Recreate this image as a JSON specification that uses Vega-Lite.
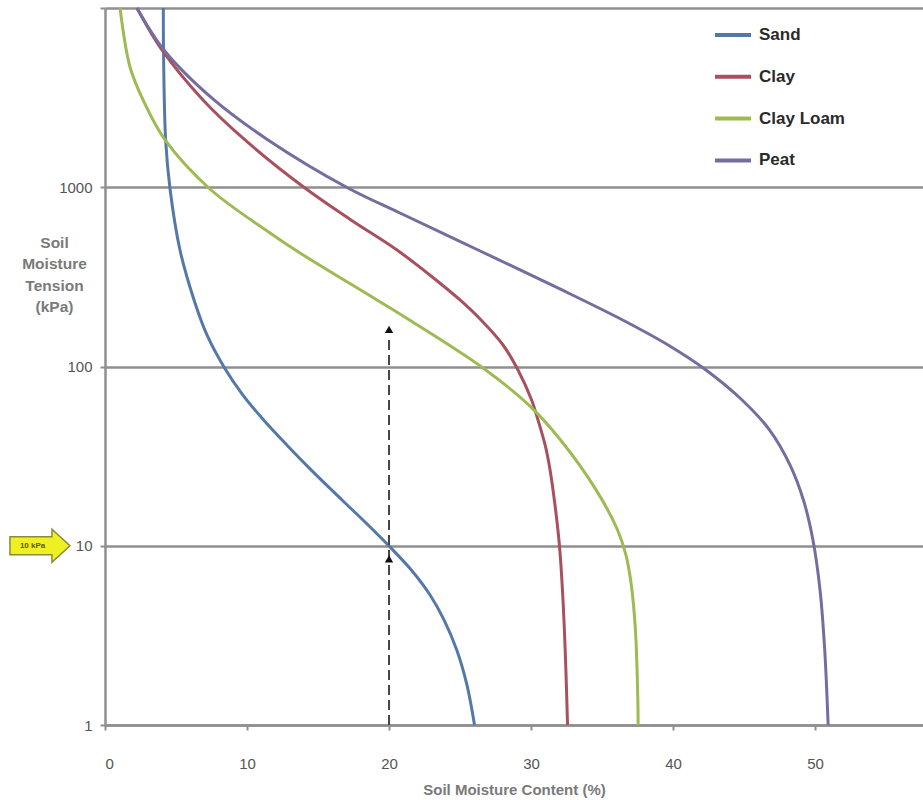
{
  "$schema": "https://vega.github.io/schema/vega-lite/v6.json",
  "width": 818,
  "height": 717,
  "autosize": {"type": "none"},
  "padding": {"left": 105, "top": 8, "right": 0, "bottom": 75},
  "background": "white",
  "config": {
    "view": {"stroke": null},
    "font": "Liberation Sans",
    "axis": {"labelFont": "Liberation Sans", "titleFont": "Liberation Sans"},
    "legend": {"labelFont": "Liberation Sans"}
  },
  "layer": [
    {
      "data": {
        "values": [
          {"soil": "Sand", "moisture": 4.11, "tension": 10000},
          {"soil": "Sand", "moisture": 4.12, "tension": 5834},
          {"soil": "Sand", "moisture": 4.27, "tension": 1836},
          {"soil": "Sand", "moisture": 4.58, "tension": 977.7},
          {"soil": "Sand", "moisture": 5.28, "tension": 446.7},
          {"soil": "Sand", "moisture": 6.27, "tension": 235},
          {"soil": "Sand", "moisture": 7.18, "tension": 149.9},
          {"soil": "Sand", "moisture": 8.42, "tension": 98.1},
          {"soil": "Sand", "moisture": 9.66, "tension": 70.2},
          {"soil": "Sand", "moisture": 11.17, "tension": 50.3},
          {"soil": "Sand", "moisture": 12.8, "tension": 36.5},
          {"soil": "Sand", "moisture": 14.51, "tension": 26.5},
          {"soil": "Sand", "moisture": 16.69, "tension": 18.0},
          {"soil": "Sand", "moisture": 18.38, "tension": 13.4},
          {"soil": "Sand", "moisture": 20.07, "tension": 9.84},
          {"soil": "Sand", "moisture": 21.57, "tension": 7.32},
          {"soil": "Sand", "moisture": 22.89, "tension": 5.31},
          {"soil": "Sand", "moisture": 23.88, "tension": 3.85},
          {"soil": "Sand", "moisture": 24.77, "tension": 2.62},
          {"soil": "Sand", "moisture": 25.49, "tension": 1.67},
          {"soil": "Sand", "moisture": 26.02, "tension": 1},

          {"soil": "Clay", "moisture": 2.25, "tension": 10000},
          {"soil": "Clay", "moisture": 4.01, "tension": 5834},
          {"soil": "Clay", "moisture": 6.9, "tension": 3069},
          {"soil": "Clay", "moisture": 9.86, "tension": 1836},
          {"soil": "Clay", "moisture": 14.08, "tension": 990},
          {"soil": "Clay", "moisture": 17.32, "tension": 657},
          {"soil": "Clay", "moisture": 20.56, "tension": 446.7},
          {"soil": "Clay", "moisture": 23.31, "tension": 303.9},
          {"soil": "Clay", "moisture": 25.0, "tension": 235},
          {"soil": "Clay", "moisture": 26.48, "tension": 181.7},
          {"soil": "Clay", "moisture": 28.03, "tension": 131.8},
          {"soil": "Clay", "moisture": 29.08, "tension": 95.6},
          {"soil": "Clay", "moisture": 30.04, "tension": 65.0},
          {"soil": "Clay", "moisture": 30.49, "tension": 50.3},
          {"soil": "Clay", "moisture": 30.99, "tension": 36.5},
          {"soil": "Clay", "moisture": 31.34, "tension": 26.5},
          {"soil": "Clay", "moisture": 31.73, "tension": 15.83},
          {"soil": "Clay", "moisture": 32.01, "tension": 9.84},
          {"soil": "Clay", "moisture": 32.25, "tension": 4.98},
          {"soil": "Clay", "moisture": 32.43, "tension": 2.305},
          {"soil": "Clay", "moisture": 32.57, "tension": 1},

          {"soil": "Clay Loam", "moisture": 1.06, "tension": 10000},
          {"soil": "Clay Loam", "moisture": 1.76, "tension": 4688},
          {"soil": "Clay Loam", "moisture": 2.68, "tension": 3069},
          {"soil": "Clay Loam", "moisture": 4.23, "tension": 1836},
          {"soil": "Clay Loam", "moisture": 7.39, "tension": 977.7},
          {"soil": "Clay Loam", "moisture": 11.62, "tension": 555.6},
          {"soil": "Clay Loam", "moisture": 13.73, "tension": 429.8},
          {"soil": "Clay Loam", "moisture": 19.15, "tension": 235},
          {"soil": "Clay Loam", "moisture": 21.44, "tension": 181.7},
          {"soil": "Clay Loam", "moisture": 26.62, "tension": 98.1},
          {"soil": "Clay Loam", "moisture": 30.0, "tension": 59.4},
          {"soil": "Clay Loam", "moisture": 32.08, "tension": 38.9},
          {"soil": "Clay Loam", "moisture": 34.58, "tension": 20.5},
          {"soil": "Clay Loam", "moisture": 36.09, "tension": 12.24},
          {"soil": "Clay Loam", "moisture": 36.68, "tension": 8.88},
          {"soil": "Clay Loam", "moisture": 37.06, "tension": 6.04},
          {"soil": "Clay Loam", "moisture": 37.35, "tension": 3.39},
          {"soil": "Clay Loam", "moisture": 37.52, "tension": 1.38},
          {"soil": "Clay Loam", "moisture": 37.54, "tension": 1},

          {"soil": "Peat", "moisture": 2.25, "tension": 10000},
          {"soil": "Peat", "moisture": 4.15, "tension": 5834},
          {"soil": "Peat", "moisture": 7.68, "tension": 3069},
          {"soil": "Peat", "moisture": 11.48, "tension": 1836},
          {"soil": "Peat", "moisture": 17.11, "tension": 990},
          {"soil": "Peat", "moisture": 20.77, "tension": 718.3},
          {"soil": "Peat", "moisture": 26.27, "tension": 446.7},
          {"soil": "Peat", "moisture": 32.18, "tension": 267.3},
          {"soil": "Peat", "moisture": 36.45, "tension": 181.7},
          {"soil": "Peat", "moisture": 39.65, "tension": 131.8},
          {"soil": "Peat", "moisture": 42.32, "tension": 95.6},
          {"soil": "Peat", "moisture": 44.86, "tension": 65.0},
          {"soil": "Peat", "moisture": 46.8, "tension": 44.2},
          {"soil": "Peat", "moisture": 48.24, "tension": 28.2},
          {"soil": "Peat", "moisture": 49.18, "tension": 18.0},
          {"soil": "Peat", "moisture": 49.85, "tension": 10.77},
          {"soil": "Peat", "moisture": 50.35, "tension": 5.66},
          {"soil": "Peat", "moisture": 50.68, "tension": 2.62},
          {"soil": "Peat", "moisture": 50.92, "tension": 1}
        ]
      },
      "mark": {"type": "line", "interpolate": "catmull-rom", "strokeWidth": 3},
      "encoding": {
        "x": {
          "field": "moisture",
          "type": "quantitative",
          "scale": {"domain": [0, 57.6], "nice": false, "zero": false},
          "axis": {
            "values": [0, 10, 20, 30, 40, 50],
            "title": "Soil Moisture Content (%)",
            "grid": false,
            "domainColor": "#8f8f8f",
            "domainWidth": 2.5,
            "tickColor": "#8f8f8f",
            "tickWidth": 2,
            "tickSize": 5,
            "labelPadding": 26,
            "labelFontSize": 15,
            "labelColor": "#555",
            "titleFontSize": 15,
            "titleFontWeight": "bold",
            "titleColor": "#7a7a7a",
            "titlePadding": 11
          }
        },
        "y": {
          "field": "tension",
          "type": "quantitative",
          "scale": {"type": "log", "domain": [1, 10000], "nice": false},
          "axis": {
            "values": [1, 10, 100, 1000, 10000],
            "format": "d",
            "labelExpr": "datum.value >= 10000 ? '' : datum.label",
            "title": ["Soil", "Moisture", "Tension", "(kPa)"],
            "titleAngle": 0,
            "titleAlign": "center",
            "titleBaseline": "top",
            "titleX": -51,
            "titleY": 227,
            "titleLineHeight": 21.5,
            "titleFontSize": 15.5,
            "titleFontWeight": "bold",
            "titleColor": "#7a7a7a",
            "grid": true,
            "gridColor": "#8f8f8f",
            "gridWidth": 2.5,
            "domainColor": "#8f8f8f",
            "domainWidth": 2.5,
            "tickColor": "#8f8f8f",
            "tickWidth": 2,
            "tickSize": 5,
            "labelPadding": 8,
            "labelFontSize": 15,
            "labelColor": "#555"
          }
        },
        "color": {
          "field": "soil",
          "type": "nominal",
          "scale": {
            "domain": ["Sand", "Clay", "Clay Loam", "Peat"],
            "range": ["#5479A8", "#A9505E", "#9DBB52", "#776C9E"]
          },
          "legend": {
            "title": null,
            "orient": "none",
            "legendX": 608,
            "legendY": 7,
            "padding": 0,
            "symbolType": "stroke",
            "symbolSize": 1296,
            "symbolStrokeWidth": 4,
            "labelFontSize": 17,
            "labelFontWeight": "bold",
            "labelColor": "#2a2a2a",
            "labelOffset": 6,
            "rowPadding": 13.8
          }
        }
      }
    },
    {
      "data": {"values": [{"x": 20, "y1": 1, "y2": 150}]},
      "mark": {"type": "rule", "color": "#444", "strokeWidth": 2, "strokeDash": [10, 5]},
      "encoding": {
        "x": {"field": "x", "type": "quantitative"},
        "y": {"field": "y1", "type": "quantitative"},
        "y2": {"field": "y2"}
      }
    },
    {
      "data": {"values": [{"x": 20, "y": 8.46}, {"x": 20, "y": 161}]},
      "mark": {"type": "point", "shape": "triangle-up", "filled": true, "color": "#111", "size": 70, "opacity": 1},
      "encoding": {
        "x": {"field": "x", "type": "quantitative"},
        "y": {"field": "y", "type": "quantitative"}
      }
    },
    {
      "data": {"values": [{"x": -4.58, "y": 10}]},
      "mark": {
        "type": "point",
        "shape": "M-1,-0.3L0.4,-0.3L0.4,-0.55L1,0L0.4,0.55L0.4,0.3L-1,0.3Z",
        "filled": true,
        "fill": "#EEF022",
        "stroke": "#8a8a3a",
        "strokeWidth": 1.5,
        "size": 3600,
        "opacity": 1
      },
      "encoding": {
        "x": {"field": "x", "type": "quantitative"},
        "y": {"field": "y", "type": "quantitative"}
      }
    },
    {
      "data": {"values": [{"x": -5.1, "y": 10, "label": "10 kPa"}]},
      "mark": {"type": "text", "fontSize": 8, "fontWeight": "bold", "color": "#5a5a20", "font": "Liberation Sans", "align": "center", "baseline": "middle"},
      "encoding": {
        "x": {"field": "x", "type": "quantitative"},
        "y": {"field": "y", "type": "quantitative"},
        "text": {"field": "label"}
      }
    }
  ]
}
